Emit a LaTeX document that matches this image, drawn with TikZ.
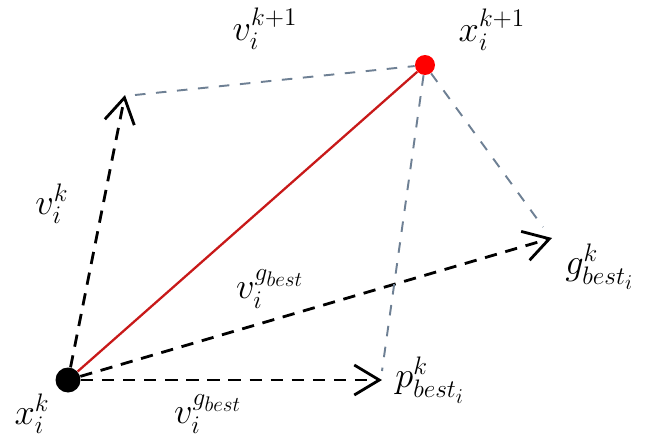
\documentclass[tikz,border=0pt]{standalone}
\usepackage{amsmath,amssymb}
\usepackage{tikz}
\usetikzlibrary{arrows.meta,positioning,calc}

\definecolor{helpgray}{RGB}{110,128,148}
\definecolor{moveRed}{RGB}{200,25,25}
\tikzset{
  vecline/.style={line width=1.6pt,dash pattern=on 7pt off 5pt,-{Straight Barb[length=5mm,width=6mm,line width=1.6pt]}},
  helpline/.style={line width=1.1pt,color=helpgray,dash pattern=on 6pt off 6pt},
  lbl/.style={font=\huge,inner sep=0pt}
}

\begin{document}
\begin{tikzpicture}
  \useasboundingbox (0,0) rectangle (12.98,8.88);
  % particle positions
  \node[circle,fill=black,minimum size=5mm,inner sep=0pt] (xk) at (1.36,1.28) {};
  \node[circle,fill=red,minimum size=4mm,inner sep=0pt] (xkk) at (8.5,7.58) {};
  % arrow ends
  \coordinate (vk) at (2.5,6.98);
  \coordinate (gb) at (11.04,4.12);
  \coordinate (pb) at (7.64,1.28);

  \draw[vecline] (xk) -- (vk);
  \draw[vecline] (xk) -- (gb);
  \draw[vecline] (xk) -- (pb);
  % construction lines
  \draw[helpline] ($(vk)+(0.2,0)$) -- (xkk);
  \draw[helpline] (xkk) -- ($(gb)+(-0.18,0.22)$);
  \draw[helpline] (xkk) -- ($(pb)+(0,0.18)$);
  \draw[moveRed,line width=1.3pt] (xk) -- (xkk);

  % labels
  \node[lbl] (lvkk) at (5.3,8.3) {$v_i^{k+1}$};
  \node[lbl] (lxkk) at (9.84,8.28) {$x_i^{k+1}$};
  \node[lbl] (lvk) at (1.04,4.8) {$v_i^{k}$};
  \node[lbl] (lvg) at (5.4,3.1) {$v_i^{g_{best}}$};
  \node[lbl,anchor=west] (lgb) at (11.3,3.55) {$g_{best_i}^{k}$};
  \node[lbl,anchor=west] (lpb) at (7.9,1.28) {$p_{best_i}^{k}$};
  \node[lbl] (lxk) at (0.64,0.6) {$x_i^{k}$};
  \node[lbl] (lvp) at (4.16,0.6) {$v_i^{g_{best}}$};
\end{tikzpicture}
\end{document}
